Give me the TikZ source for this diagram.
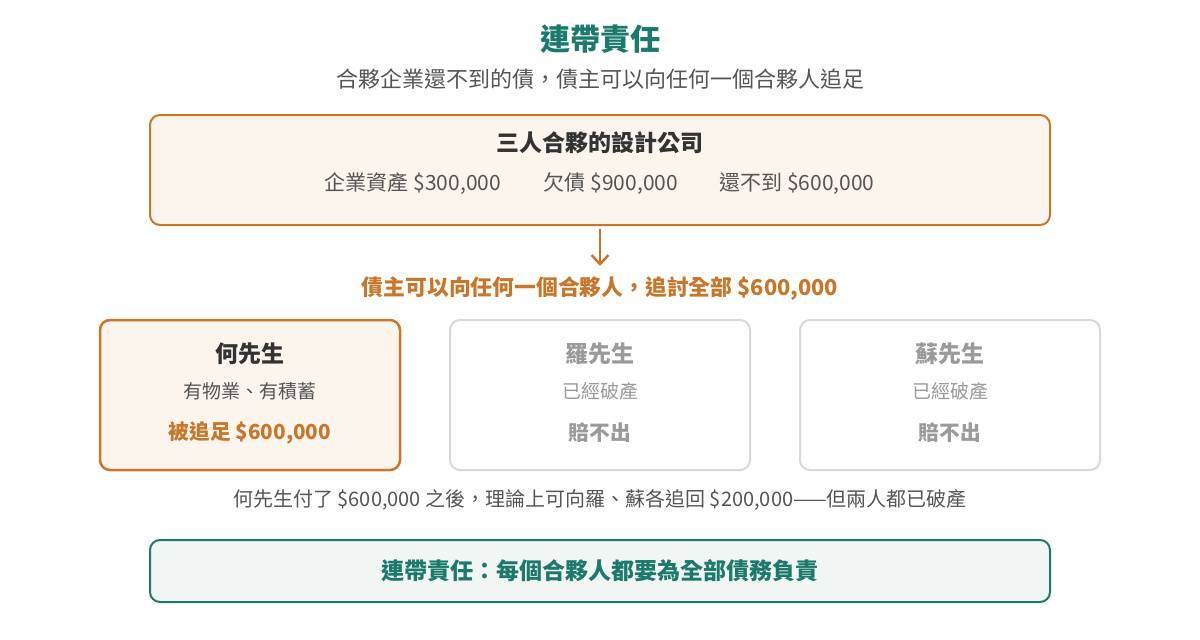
\documentclass[tikz,border=0pt]{standalone}
\usepackage{fontspec}
\setmainfont{Noto Sans CJK TC}
\usetikzlibrary{arrows.meta}
\definecolor{teal}{HTML}{1B7A6B}
\definecolor{ochre}{HTML}{C8772A}
\definecolor{cream}{HTML}{FCF5EE}
\definecolor{mint}{HTML}{F1F5F3}
\definecolor{ink}{HTML}{333333}
\definecolor{slate}{HTML}{555555}
\definecolor{ash}{HTML}{9A9A9A}
\definecolor{rim}{HTML}{D9D9D9}
\tikzset{
  panel/.style={rounded corners=10pt,line width=2pt,inner sep=0pt},
  txt/.style={inner sep=0pt,anchor=center},
  arr/.style={-{Straight Barb[length=9pt,width=17pt]},ochre,line width=2.5pt}
}
\newcommand{\fs}[1]{\fontsize{#1}{#1}\selectfont}
\begin{document}
\begin{tikzpicture}[x=1pt,y=-1pt]
      \useasboundingbox (0,0) rectangle (1200,640);
      % heading
      \node[txt,teal] (title) at (600,39) {\fs{30}\bfseries 連帶責任};
      \node[txt,slate] (sub) at (600,79) {\fs{22}合夥企業還不到的債，債主可以向任何一個合夥人追足};
      % company
      \node[panel,draw=ochre,fill=cream,minimum width=900pt,minimum height=110pt] (company) at (600,170) {};
      \node[txt,ink] (cname) at (600,143) {\fs{23}\bfseries 三人合夥的設計公司};
      \node[txt,slate] (assets) at (413,184) {\fs{21}企業資產 \$300,000};
      \node[txt,slate] (debt) at (611,184) {\fs{21}欠債 \$900,000};
      \node[txt,slate] (short) at (797,184) {\fs{21}還不到 \$600,000};
      % creditor
      \node[txt,ochre] (demand) at (600,289) {\fs{21.8}\bfseries 債主可以向任何一個合夥人，追討全部 \$600,000};
      \draw[arr,shorten <=3pt,shorten >=11pt] (company.south) -- (demand.north);
      % partners
      \node[panel,draw=ochre,fill=cream,line width=2.5pt,minimum width=300pt,minimum height=150pt] (ho) at (250,395) {};
      \node[panel,draw=rim,fill=white,minimum width=300pt,minimum height=150pt] (lo) at (600,395) {};
      \node[panel,draw=rim,fill=white,minimum width=300pt,minimum height=150pt] (so) at (950,395) {};
      \node[txt,ink] (honame) at (250,354) {\fs{23}\bfseries 何先生};
      \node[txt,slate] (hohas) at (250,391) {\fs{19}有物業、有積蓄};
      \node[txt,ochre] (hopay) at (250,433) {\fs{20.7}\bfseries 被追足 \$600,000};
      \node[txt,ash] (loname) at (600,354) {\fs{23}\bfseries 羅先生};
      \node[txt,ash] (lohas) at (600,391) {\fs{19}已經破產};
      \node[txt,ash] (lopay) at (600,433) {\fs{20.7}\bfseries 賠不出};
      \node[txt,ash] (soname) at (950,354) {\fs{23}\bfseries 蘇先生};
      \node[txt,ash] (sohas) at (950,391) {\fs{19}已經破產};
      \node[txt,ash] (sopay) at (950,433) {\fs{20.7}\bfseries 賠不出};
      % note
      \node[txt,slate] (note) at (600,500) {\fs{20}何先生付了 \$600,000 之後，理論上可向羅、蘇各追回 \$200,000——但兩人都已破產};
      % rule
      \node[panel,draw=teal,fill=mint,minimum width=900pt,minimum height=62pt] (rule) at (600,571) {};
      \node[txt,teal] (ruletxt) at (600,571) {\fs{23}\bfseries 連帶責任：每個合夥人都要為全部債務負責};
\end{tikzpicture}
\end{document}
